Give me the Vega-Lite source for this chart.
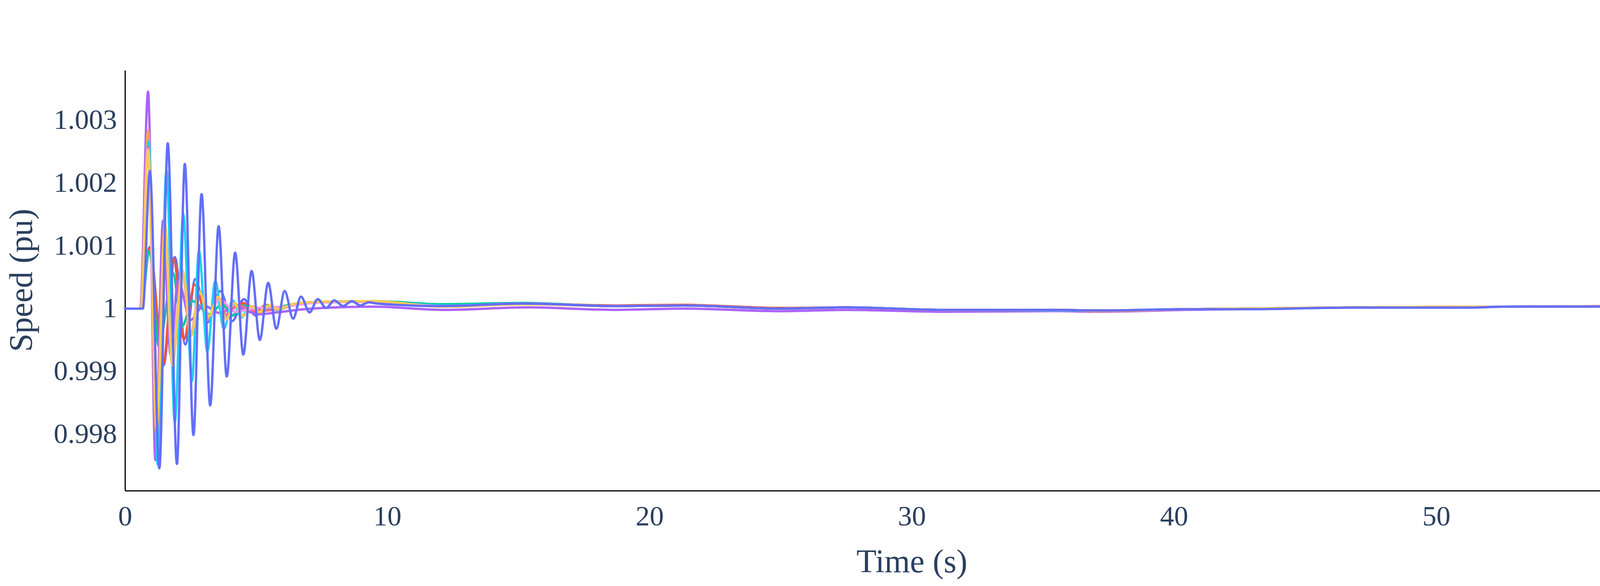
{
  "$schema": "https://vega.github.io/schema/vega-lite/v6.json",
  "width": 4500,
  "height": 1500,
  "autosize": {"type": "fit", "contains": "padding"},
  "padding": {"left": 14, "top": 180, "right": 116, "bottom": 19},
  "background": "white",
  "config": {
    "view": {"stroke": null},
    "axis": {
      "grid": false,
      "ticks": false,
      "tickSize": 0,
      "domainColor": "black",
      "domainWidth": 3,
      "labelFont": "Liberation Serif",
      "labelFontSize": 72,
      "labelColor": "#2a3f5f",
      "labelFlush": false,
      "labelOverlap": false,
      "labelBound": false,
      "titleFont": "Liberation Serif",
      "titleFontSize": 84,
      "titleFontWeight": "normal",
      "titleColor": "#2a3f5f"
    }
  },
  "data": {
    "values": [
      {"g": "G01", "t": 0, "v": 1},
      {"g": "G01", "t": 0.62, "v": 1},
      {"g": "G01", "t": 0.94, "v": 1.00098},
      {"g": "G01", "t": 1.47, "v": 0.9991},
      {"g": "G01", "t": 1.9, "v": 1.00082},
      {"g": "G01", "t": 2.3, "v": 0.99943},
      {"g": "G01", "t": 2.68, "v": 1.00047},
      {"g": "G01", "t": 3.15, "v": 0.99978},
      {"g": "G01", "t": 3.63, "v": 1.00028},
      {"g": "G01", "t": 4.09, "v": 0.9998},
      {"g": "G01", "t": 4.53, "v": 1.00015},
      {"g": "G01", "t": 4.98, "v": 0.99989},
      {"g": "G01", "t": 5.4, "v": 1.00005},
      {"g": "G01", "t": 5.8, "v": 0.99999},
      {"g": "G01", "t": 6.5, "v": 1.00008},
      {"g": "G01", "t": 7.5, "v": 1.0001},
      {"g": "G01", "t": 9.5, "v": 1.00011},
      {"g": "G01", "t": 12.1, "v": 1.00005},
      {"g": "G01", "t": 15.2, "v": 1.00008},
      {"g": "G01", "t": 18.7, "v": 1.00004},
      {"g": "G01", "t": 21.3, "v": 1.00005},
      {"g": "G01", "t": 25, "v": 1.0},
      {"g": "G01", "t": 27.5, "v": 1.00002},
      {"g": "G01", "t": 31.2, "v": 0.99998},
      {"g": "G01", "t": 35.5, "v": 0.99998},
      {"g": "G01", "t": 37.1, "v": 0.99997},
      {"g": "G01", "t": 40.4, "v": 0.99999},
      {"g": "G01", "t": 46.7, "v": 1.00002},
      {"g": "G01", "t": 52.5, "v": 1.00003},
      {"g": "G01", "t": 60, "v": 1.00004},

      {"g": "G02", "t": 0, "v": 1},
      {"g": "G02", "t": 0.6, "v": 1},
      {"g": "G02", "t": 0.93, "v": 1.00096},
      {"g": "G02", "t": 1.47, "v": 0.99914},
      {"g": "G02", "t": 1.85, "v": 1.0008},
      {"g": "G02", "t": 2.25, "v": 0.99951},
      {"g": "G02", "t": 2.65, "v": 1.00038},
      {"g": "G02", "t": 3.14, "v": 0.99984},
      {"g": "G02", "t": 3.6, "v": 1.00016},
      {"g": "G02", "t": 4.09, "v": 0.99989},
      {"g": "G02", "t": 4.5, "v": 1.00009},
      {"g": "G02", "t": 4.95, "v": 0.99995},
      {"g": "G02", "t": 5.4, "v": 1.00006},
      {"g": "G02", "t": 5.8, "v": 0.99999},
      {"g": "G02", "t": 6.5, "v": 1.00008},
      {"g": "G02", "t": 7.5, "v": 1.0001},
      {"g": "G02", "t": 9.5, "v": 1.00011},
      {"g": "G02", "t": 12.1, "v": 1.00005},
      {"g": "G02", "t": 15.2, "v": 1.00008},
      {"g": "G02", "t": 18.7, "v": 1.00005},
      {"g": "G02", "t": 21.3, "v": 1.00006},
      {"g": "G02", "t": 25, "v": 1.00001},
      {"g": "G02", "t": 27.5, "v": 1.00002},
      {"g": "G02", "t": 31.2, "v": 0.99998},
      {"g": "G02", "t": 35.5, "v": 0.99998},
      {"g": "G02", "t": 37.1, "v": 0.99997},
      {"g": "G02", "t": 40.4, "v": 0.99999},
      {"g": "G02", "t": 46.7, "v": 1.00002},
      {"g": "G02", "t": 52.5, "v": 1.00003},
      {"g": "G02", "t": 60, "v": 1.00005},

      {"g": "G03", "t": 0, "v": 1},
      {"g": "G03", "t": 0.6, "v": 1},
      {"g": "G03", "t": 0.93, "v": 1.00092},
      {"g": "G03", "t": 1.29, "v": 0.9994},
      {"g": "G03", "t": 1.82, "v": 1.00057},
      {"g": "G03", "t": 2.18, "v": 0.99972},
      {"g": "G03", "t": 2.57, "v": 1.00012},
      {"g": "G03", "t": 3.23, "v": 0.99991},
      {"g": "G03", "t": 3.7, "v": 1.00007},
      {"g": "G03", "t": 4.09, "v": 0.99989},
      {"g": "G03", "t": 4.53, "v": 1.00005},
      {"g": "G03", "t": 5.1, "v": 0.99996},
      {"g": "G03", "t": 5.8, "v": 1.00002},
      {"g": "G03", "t": 7, "v": 1.0001},
      {"g": "G03", "t": 9.5, "v": 1.00012},
      {"g": "G03", "t": 12.1, "v": 1.00007},
      {"g": "G03", "t": 15.2, "v": 1.00009},
      {"g": "G03", "t": 18.7, "v": 1.00004},
      {"g": "G03", "t": 21.3, "v": 1.00005},
      {"g": "G03", "t": 25, "v": 1.0},
      {"g": "G03", "t": 27.5, "v": 1.00002},
      {"g": "G03", "t": 31.2, "v": 0.99998},
      {"g": "G03", "t": 35.5, "v": 0.99998},
      {"g": "G03", "t": 37.1, "v": 0.99997},
      {"g": "G03", "t": 40.4, "v": 0.99999},
      {"g": "G03", "t": 46.7, "v": 1.00002},
      {"g": "G03", "t": 52.5, "v": 1.00003},
      {"g": "G03", "t": 60, "v": 1.00004},

      {"g": "G04", "t": 0, "v": 1},
      {"g": "G04", "t": 0.58, "v": 1},
      {"g": "G04", "t": 0.88, "v": 1.00345},
      {"g": "G04", "t": 1.16, "v": 0.99759},
      {"g": "G04", "t": 1.45, "v": 1.0014},
      {"g": "G04", "t": 1.74, "v": 0.99926},
      {"g": "G04", "t": 2.02, "v": 1.00045},
      {"g": "G04", "t": 2.5, "v": 0.99982},
      {"g": "G04", "t": 3.0, "v": 1.00005},
      {"g": "G04", "t": 3.6, "v": 0.99993},
      {"g": "G04", "t": 4.2, "v": 1.00002},
      {"g": "G04", "t": 5.1, "v": 0.99991},
      {"g": "G04", "t": 5.8, "v": 0.99994},
      {"g": "G04", "t": 7.1, "v": 1.0},
      {"g": "G04", "t": 9.5, "v": 1.00003},
      {"g": "G04", "t": 12.2, "v": 0.99998},
      {"g": "G04", "t": 15.4, "v": 1.00002},
      {"g": "G04", "t": 18.6, "v": 0.99998},
      {"g": "G04", "t": 21.3, "v": 1.0},
      {"g": "G04", "t": 25, "v": 0.99996},
      {"g": "G04", "t": 27.5, "v": 0.99998},
      {"g": "G04", "t": 31.2, "v": 0.99995},
      {"g": "G04", "t": 35.5, "v": 0.99996},
      {"g": "G04", "t": 37.1, "v": 0.99995},
      {"g": "G04", "t": 40.4, "v": 0.99998},
      {"g": "G04", "t": 46.7, "v": 1.00002},
      {"g": "G04", "t": 52.5, "v": 1.00003},
      {"g": "G04", "t": 60, "v": 1.00003},

      {"g": "G05", "t": 0, "v": 1},
      {"g": "G05", "t": 0.6, "v": 1},
      {"g": "G05", "t": 0.88, "v": 1.00283},
      {"g": "G05", "t": 1.18, "v": 0.99802},
      {"g": "G05", "t": 1.51, "v": 1.0013},
      {"g": "G05", "t": 1.8, "v": 0.99915},
      {"g": "G05", "t": 2.18, "v": 1.00062},
      {"g": "G05", "t": 2.5, "v": 0.99958},
      {"g": "G05", "t": 2.84, "v": 1.00028},
      {"g": "G05", "t": 3.18, "v": 0.99985},
      {"g": "G05", "t": 3.54, "v": 1.00018},
      {"g": "G05", "t": 3.88, "v": 0.99988},
      {"g": "G05", "t": 4.2, "v": 1.00008},
      {"g": "G05", "t": 4.5, "v": 0.99989},
      {"g": "G05", "t": 4.85, "v": 1.00004},
      {"g": "G05", "t": 5.15, "v": 0.99994},
      {"g": "G05", "t": 5.5, "v": 1.00005},
      {"g": "G05", "t": 5.8, "v": 0.99998},
      {"g": "G05", "t": 6.5, "v": 1.00007},
      {"g": "G05", "t": 7.5, "v": 1.00011},
      {"g": "G05", "t": 9.5, "v": 1.00011},
      {"g": "G05", "t": 12.1, "v": 1.00003},
      {"g": "G05", "t": 15.2, "v": 1.00007},
      {"g": "G05", "t": 18.7, "v": 1.00004},
      {"g": "G05", "t": 21.3, "v": 1.00005},
      {"g": "G05", "t": 25, "v": 1.0},
      {"g": "G05", "t": 27.5, "v": 1.00002},
      {"g": "G05", "t": 31.2, "v": 0.99998},
      {"g": "G05", "t": 35.5, "v": 0.99998},
      {"g": "G05", "t": 37.1, "v": 0.99996},
      {"g": "G05", "t": 40.4, "v": 0.99999},
      {"g": "G05", "t": 46.7, "v": 1.00002},
      {"g": "G05", "t": 52.5, "v": 1.00003},
      {"g": "G05", "t": 60, "v": 1.00004},

      {"g": "G06", "t": 0, "v": 1},
      {"g": "G06", "t": 0.6, "v": 1},
      {"g": "G06", "t": 0.9, "v": 1.00266},
      {"g": "G06", "t": 1.25, "v": 0.99752},
      {"g": "G06", "t": 1.58, "v": 1.0022},
      {"g": "G06", "t": 1.9, "v": 0.99819},
      {"g": "G06", "t": 2.22, "v": 1.0015},
      {"g": "G06", "t": 2.55, "v": 0.99885},
      {"g": "G06", "t": 2.82, "v": 1.00092},
      {"g": "G06", "t": 3.14, "v": 0.99932},
      {"g": "G06", "t": 3.44, "v": 1.00044},
      {"g": "G06", "t": 3.77, "v": 0.99968},
      {"g": "G06", "t": 4.1, "v": 1.00013},
      {"g": "G06", "t": 4.44, "v": 0.99986},
      {"g": "G06", "t": 4.78, "v": 1.00004},
      {"g": "G06", "t": 5.1, "v": 0.99995},
      {"g": "G06", "t": 5.45, "v": 1.00005},
      {"g": "G06", "t": 5.8, "v": 0.99998},
      {"g": "G06", "t": 6.5, "v": 1.00008},
      {"g": "G06", "t": 7.5, "v": 1.0001},
      {"g": "G06", "t": 9.5, "v": 1.00011},
      {"g": "G06", "t": 12.1, "v": 1.00005},
      {"g": "G06", "t": 15.2, "v": 1.00008},
      {"g": "G06", "t": 18.7, "v": 1.00004},
      {"g": "G06", "t": 21.3, "v": 1.00005},
      {"g": "G06", "t": 25, "v": 1.0},
      {"g": "G06", "t": 27.5, "v": 1.00002},
      {"g": "G06", "t": 31.2, "v": 0.99998},
      {"g": "G06", "t": 35.5, "v": 0.99997},
      {"g": "G06", "t": 37.1, "v": 0.99997},
      {"g": "G06", "t": 40.4, "v": 0.99999},
      {"g": "G06", "t": 46.7, "v": 1.00002},
      {"g": "G06", "t": 52.5, "v": 1.00003},
      {"g": "G06", "t": 60, "v": 1.00004},

      {"g": "G07", "t": 0, "v": 1},
      {"g": "G07", "t": 0.6, "v": 1},
      {"g": "G07", "t": 0.88, "v": 1.00256},
      {"g": "G07", "t": 1.19, "v": 0.99808},
      {"g": "G07", "t": 1.52, "v": 1.00132},
      {"g": "G07", "t": 1.8, "v": 0.99912},
      {"g": "G07", "t": 2.19, "v": 1.0006},
      {"g": "G07", "t": 2.51, "v": 0.99958},
      {"g": "G07", "t": 2.84, "v": 1.00026},
      {"g": "G07", "t": 3.19, "v": 0.99988},
      {"g": "G07", "t": 3.54, "v": 1.00018},
      {"g": "G07", "t": 3.88, "v": 0.9999},
      {"g": "G07", "t": 4.3, "v": 1.00005},
      {"g": "G07", "t": 5, "v": 0.99996},
      {"g": "G07", "t": 5.8, "v": 0.99999},
      {"g": "G07", "t": 7, "v": 1.0001},
      {"g": "G07", "t": 9.5, "v": 1.00011},
      {"g": "G07", "t": 12.1, "v": 1.00004},
      {"g": "G07", "t": 15.2, "v": 1.00008},
      {"g": "G07", "t": 18.7, "v": 1.00004},
      {"g": "G07", "t": 21.3, "v": 1.00005},
      {"g": "G07", "t": 25, "v": 1.0},
      {"g": "G07", "t": 27.5, "v": 1.00002},
      {"g": "G07", "t": 31.2, "v": 0.99998},
      {"g": "G07", "t": 35.5, "v": 0.99998},
      {"g": "G07", "t": 37.1, "v": 0.99997},
      {"g": "G07", "t": 40.4, "v": 0.99999},
      {"g": "G07", "t": 46.7, "v": 1.00002},
      {"g": "G07", "t": 52.5, "v": 1.00003},
      {"g": "G07", "t": 60, "v": 1.00004},

      {"g": "G08", "t": 0, "v": 1},
      {"g": "G08", "t": 0.6, "v": 1},
      {"g": "G08", "t": 0.88, "v": 1.00254},
      {"g": "G08", "t": 1.2, "v": 0.99812},
      {"g": "G08", "t": 1.53, "v": 1.0013},
      {"g": "G08", "t": 1.8, "v": 0.9991},
      {"g": "G08", "t": 2.2, "v": 1.0006},
      {"g": "G08", "t": 2.52, "v": 0.99957},
      {"g": "G08", "t": 2.85, "v": 1.00025},
      {"g": "G08", "t": 3.2, "v": 0.99988},
      {"g": "G08", "t": 3.6, "v": 1.00015},
      {"g": "G08", "t": 4.2, "v": 0.99995},
      {"g": "G08", "t": 5, "v": 1.00001},
      {"g": "G08", "t": 6, "v": 1.00003},
      {"g": "G08", "t": 7.5, "v": 1.0001},
      {"g": "G08", "t": 9.5, "v": 1.00011},
      {"g": "G08", "t": 12.1, "v": 1.00004},
      {"g": "G08", "t": 15.2, "v": 1.00008},
      {"g": "G08", "t": 18.7, "v": 1.00004},
      {"g": "G08", "t": 21.3, "v": 1.00005},
      {"g": "G08", "t": 25, "v": 1.0},
      {"g": "G08", "t": 27.5, "v": 1.00002},
      {"g": "G08", "t": 31.2, "v": 0.99998},
      {"g": "G08", "t": 35.5, "v": 0.99998},
      {"g": "G08", "t": 37.1, "v": 0.99997},
      {"g": "G08", "t": 40.4, "v": 0.99999},
      {"g": "G08", "t": 46.7, "v": 1.00002},
      {"g": "G08", "t": 52.5, "v": 1.00003},
      {"g": "G08", "t": 60, "v": 1.00004},

      {"g": "G09", "t": 0, "v": 1},
      {"g": "G09", "t": 0.6, "v": 1},
      {"g": "G09", "t": 0.89, "v": 1.00251},
      {"g": "G09", "t": 1.21, "v": 0.9981},
      {"g": "G09", "t": 1.53, "v": 1.00133},
      {"g": "G09", "t": 1.8, "v": 0.9991},
      {"g": "G09", "t": 2.2, "v": 1.00061},
      {"g": "G09", "t": 2.52, "v": 0.99957},
      {"g": "G09", "t": 2.84, "v": 1.00026},
      {"g": "G09", "t": 3.19, "v": 0.99988},
      {"g": "G09", "t": 3.54, "v": 1.00019},
      {"g": "G09", "t": 3.87, "v": 0.99983},
      {"g": "G09", "t": 4.15, "v": 1.00009},
      {"g": "G09", "t": 4.5, "v": 0.99988},
      {"g": "G09", "t": 4.83, "v": 1.00004},
      {"g": "G09", "t": 5.1, "v": 0.99995},
      {"g": "G09", "t": 5.5, "v": 1.00005},
      {"g": "G09", "t": 5.8, "v": 0.99999},
      {"g": "G09", "t": 6.5, "v": 1.00008},
      {"g": "G09", "t": 7.5, "v": 1.00011},
      {"g": "G09", "t": 9.5, "v": 1.00012},
      {"g": "G09", "t": 12.1, "v": 1.00003},
      {"g": "G09", "t": 15.2, "v": 1.00007},
      {"g": "G09", "t": 18.7, "v": 1.00004},
      {"g": "G09", "t": 21.3, "v": 1.00005},
      {"g": "G09", "t": 25, "v": 1.0},
      {"g": "G09", "t": 27.5, "v": 1.00002},
      {"g": "G09", "t": 31.2, "v": 0.99998},
      {"g": "G09", "t": 35.5, "v": 0.99998},
      {"g": "G09", "t": 37.1, "v": 0.99997},
      {"g": "G09", "t": 40.4, "v": 0.99999},
      {"g": "G09", "t": 46.7, "v": 1.00002},
      {"g": "G09", "t": 52.5, "v": 1.00003},
      {"g": "G09", "t": 60, "v": 1.00004},

      {"g": "G10", "t": 0, "v": 1},
      {"g": "G10", "t": 0.68, "v": 1},
      {"g": "G10", "t": 0.95, "v": 1.00219},
      {"g": "G10", "t": 1.31, "v": 0.99746},
      {"g": "G10", "t": 1.63, "v": 1.00263},
      {"g": "G10", "t": 1.98, "v": 0.99753},
      {"g": "G10", "t": 2.28, "v": 1.0023},
      {"g": "G10", "t": 2.61, "v": 0.99799},
      {"g": "G10", "t": 2.92, "v": 1.00182},
      {"g": "G10", "t": 3.25, "v": 0.99846},
      {"g": "G10", "t": 3.57, "v": 1.00131},
      {"g": "G10", "t": 3.88, "v": 0.99892},
      {"g": "G10", "t": 4.2, "v": 1.00089},
      {"g": "G10", "t": 4.51, "v": 0.99927},
      {"g": "G10", "t": 4.83, "v": 1.0006},
      {"g": "G10", "t": 5.14, "v": 0.9995},
      {"g": "G10", "t": 5.46, "v": 1.00041},
      {"g": "G10", "t": 5.77, "v": 0.99968},
      {"g": "G10", "t": 6.09, "v": 1.00028},
      {"g": "G10", "t": 6.41, "v": 0.99984},
      {"g": "G10", "t": 6.71, "v": 1.00019},
      {"g": "G10", "t": 7.04, "v": 0.99994},
      {"g": "G10", "t": 7.35, "v": 1.00015},
      {"g": "G10", "t": 7.67, "v": 1.00001},
      {"g": "G10", "t": 7.98, "v": 1.00013},
      {"g": "G10", "t": 8.32, "v": 1.00004},
      {"g": "G10", "t": 8.65, "v": 1.00012},
      {"g": "G10", "t": 8.97, "v": 1.00005},
      {"g": "G10", "t": 9.3, "v": 1.0001},
      {"g": "G10", "t": 9.6, "v": 1.00008},
      {"g": "G10", "t": 12.07, "v": 1.00004},
      {"g": "G10", "t": 15.15, "v": 1.00008},
      {"g": "G10", "t": 18.73, "v": 1.00004},
      {"g": "G10", "t": 21.3, "v": 1.00005},
      {"g": "G10", "t": 25.06, "v": 1.0},
      {"g": "G10", "t": 27.46, "v": 1.00002},
      {"g": "G10", "t": 31.22, "v": 0.99998},
      {"g": "G10", "t": 35.46, "v": 0.99998},
      {"g": "G10", "t": 37.1, "v": 0.99997},
      {"g": "G10", "t": 40.4, "v": 0.99999},
      {"g": "G10", "t": 42.7, "v": 0.99999},
      {"g": "G10", "t": 46.7, "v": 1.000015},
      {"g": "G10", "t": 51.3, "v": 1.000015},
      {"g": "G10", "t": 52.5, "v": 1.00003},
      {"g": "G10", "t": 58, "v": 1.000035},
      {"g": "G10", "t": 60, "v": 1.000035}
    ]
  },
  "encoding": {
    "x": {
      "field": "t",
      "type": "quantitative",
      "scale": {"domain": [0, 60], "nice": false, "zero": false},
      "axis": {
        "values": [0, 10, 20, 30, 40, 50, 60],
        "labelPadding": 31,
        "title": "Time (s)",
        "titleBaseline": "alphabetic",
        "titleY": 208
      }
    },
    "y": {
      "field": "v",
      "type": "quantitative",
      "scale": {"domain": [0.997104, 1.00379], "nice": false, "zero": false},
      "axis": {
        "values": [0.998, 0.999, 1, 1.001, 1.002, 1.003],
        "format": ".4~g",
        "labelPadding": 21,
        "title": "Speed (pu)",
        "titleAngle": 270,
        "titleBaseline": "alphabetic",
        "titleAlign": "center",
        "titleX": -239,
        "titleY": 537
      }
    },
    "color": {
      "field": "g",
      "type": "nominal",
      "scale": {
        "domain": ["G01", "G02", "G03", "G04", "G05", "G06", "G07", "G08", "G09", "G10"],
        "range": ["#636efa", "#EF553B", "#00cc96", "#ab63fa", "#FFA15A", "#19d3f3", "#FF6692", "#FF97FF", "#FECB52", "#636efa"]
      },
      "legend": null
    }
  },
  "layer": [
    {
      "transform": [{"filter": "datum.g != 'G10'"}],
      "mark": {"type": "line", "interpolate": "monotone", "strokeWidth": 6, "strokeJoin": "round", "strokeCap": "round"}
    },
    {
      "transform": [{"filter": "datum.g == 'G10'"}],
      "mark": {"type": "line", "interpolate": "monotone", "strokeWidth": 6, "strokeJoin": "round", "strokeCap": "round"}
    }
  ]
}
